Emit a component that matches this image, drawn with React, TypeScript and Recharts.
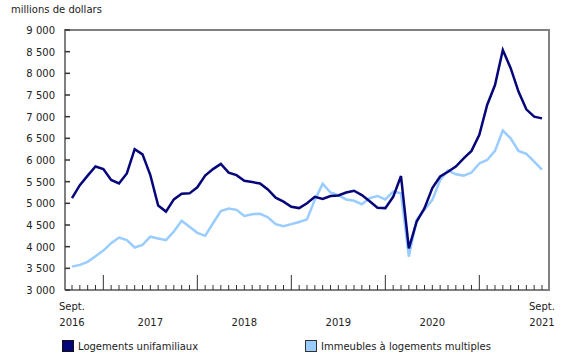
import React from "react";
import {
  LineChart,
  Line,
  XAxis,
  YAxis,
} from "recharts";

// monthly, Sept. 2016 to Sept. 2021
const months = Array.from({ length: 61 }, (_, i) => i);

const singleFamily = [
  5120, 5420, 5640, 5850, 5790, 5540, 5460, 5690, 6250, 6130, 5650, 4950,
  4810, 5090, 5220, 5230, 5370, 5640, 5790, 5910, 5710, 5650, 5520, 5490,
  5460, 5320, 5130, 5040, 4920, 4890, 5000, 5150, 5100, 5170, 5180, 5250,
  5290, 5190, 5050, 4900, 4890, 5150, 5630, 3960, 4580, 4890, 5350, 5620,
  5730, 5850, 6040, 6210, 6580, 7270, 7730, 8540, 8120, 7580, 7170, 7000,
  6960,
];

const multiUnit = [
  3540, 3580, 3650, 3780, 3910, 4080, 4210, 4150, 3980, 4040, 4230, 4190,
  4150, 4350, 4600, 4460, 4320, 4250, 4540, 4820, 4880, 4850, 4710, 4750,
  4760, 4680, 4520, 4470, 4520, 4570, 4630, 5080, 5450, 5250, 5190, 5090,
  5060, 4980, 5120, 5170, 5090, 5270, 5230, 3770, 4620, 4850, 5080, 5540,
  5760, 5670, 5640, 5710, 5920, 6000, 6210, 6680, 6500, 6210, 6140, 5960,
  5780,
];

const yTicks = [3000, 3500, 4000, 4500, 5000, 5500, 6000, 6500, 7000, 7500, 8000, 8500, 9000];

// first line / second line of the x labels, by month index
const xLabels: Record<number, [string, string]> = {
  0: ["Sept.", "2016"],
  10: ["", "2017"],
  22: ["", "2018"],
  34: ["", "2019"],
  46: ["", "2020"],
  60: ["Sept.", "2021"],
};
const januaries = [4, 16, 28, 40, 52];

const data = months.map((m) => ({
  m,
  single: singleFamily[m],
  multi: multiUnit[m],
}));

const FONT = "'DejaVu Sans', Verdana, sans-serif";
const NAVY = "#06067a";
const LIGHT = "#99ccff";
const FRAME = "#808080";

const W = 580;
const H = 335;
const M = { top: 30, right: 31, bottom: 0, left: 0 };
const Y_AXIS_W = 65;
const X_AXIS_H = 45;
const X_PAD = 7;
const plotW = W - M.left - M.right - Y_AXIS_W;
const plotH = H - M.top - M.bottom - X_AXIS_H;

const fmt = (v: number) => {
  const s = String(v);
  return s.length > 3 ? s.slice(0, -3) + " " + s.slice(-3) : s;
};

const XTick = (props: any) => {
  const { x, y, payload } = props;
  const v = payload.value as number;
  const len = januaries.includes(v) ? 15 : 5;
  const label = xLabels[v];
  return (
    <g>
      <line x1={x} x2={x} y1={y} y2={y - len} stroke="#333" strokeWidth={1} />
      {v === 60 && (
        // right edge of the frame
        <line x1={x + X_PAD} x2={x + X_PAD} y1={y + 1} y2={y - plotH - 1} stroke={FRAME} strokeWidth={2} />
      )}
      {label && (
        <text x={x} y={y} textAnchor="middle" fontSize={10} fontFamily={FONT} fill="#222">
          <tspan x={x} y={y + 20}>{label[0]}</tspan>
          <tspan x={x} y={y + 36}>{label[1]}</tspan>
        </text>
      )}
    </g>
  );
};

const YTick = (props: any) => {
  const { x, y, payload } = props;
  return (
    <g>
      {payload.value === 9000 && (
        // top edge of the frame
        <line x1={x - 1} x2={x + plotW + 1} y1={y} y2={y} stroke={FRAME} strokeWidth={2} />
      )}
      <line x1={x} x2={x + 5} y1={y} y2={y} stroke="#333" strokeWidth={1.5} />
      <text x={x - 10} y={y} dy={4} textAnchor="end" fontSize={10} fontFamily={FONT} fill="#222">
        {fmt(payload.value)}
      </text>
    </g>
  );
};

const LegendItem = ({ color, border, label, left }: any) => (
  <div style={{ position: "absolute", left, top: 340, display: "flex", alignItems: "center" }}>
    <div
      style={{
        width: 10,
        height: 10,
        background: color,
        border: `1px solid ${border}`,
        marginRight: 4,
      }}
    />
    <span style={{ fontFamily: FONT, fontSize: 10, color: "#222" }}>{label}</span>
  </div>
);

export default function App() {
  return (
    <div style={{ position: "absolute", left: 0, top: 0, width: 580, height: 360, background: "#fff" }}>
      <div
        style={{
          position: "absolute",
          left: 11,
          top: 4,
          fontFamily: FONT,
          fontSize: 10,
          color: "#222",
        }}
      >
        millions de dollars
      </div>
      <div style={{ position: "absolute", left: 0, top: 0 }}>
        <LineChart width={W} height={H} data={data} margin={M}>
          <XAxis
            dataKey="m"
            type="number"
            domain={[0, 60]}
            ticks={months}
            interval={0}
            padding={{ left: X_PAD, right: X_PAD }}
            height={X_AXIS_H}
            tickSize={0}
            tickMargin={0}
            tickLine={false}
            axisLine={{ stroke: FRAME, strokeWidth: 2 }}
            tick={<XTick />}
          />
          <YAxis
            domain={[3000, 9000]}
            ticks={yTicks}
            interval={0}
            width={Y_AXIS_W}
            tickSize={0}
            tickMargin={0}
            tickLine={false}
            axisLine={{ stroke: FRAME, strokeWidth: 2 }}
            tick={<YTick />}
          />
          <Line
            type="linear"
            dataKey="multi"
            stroke={LIGHT}
            strokeWidth={2.5}
            dot={false}
            isAnimationActive={false}
          />
          <Line
            type="linear"
            dataKey="single"
            stroke={NAVY}
            strokeWidth={2.5}
            dot={false}
            isAnimationActive={false}
          />
        </LineChart>
      </div>
      <LegendItem color={NAVY} border="#111" label="Logements unifamiliaux" left={62} />
      <LegendItem color={LIGHT} border="#333" label="Immeubles à logements multiples" left={305} />
    </div>
  );
}
